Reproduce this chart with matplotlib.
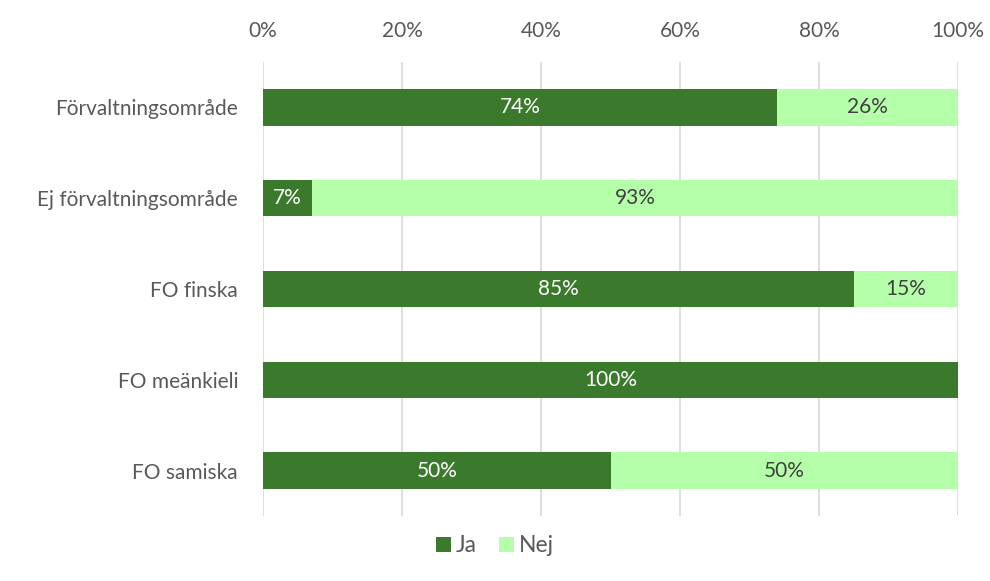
import matplotlib.pyplot as plt
from matplotlib.ticker import PercentFormatter

plt.rcParams['font.family'] = ['Lato', 'DejaVu Sans']

# data
categories = ['Förvaltningsområde', 'Ej förvaltningsområde', 'FO finska', 'FO meänkieli', 'FO samiska']
ja = [74, 7, 85, 100, 50]
nej = [26, 93, 15, 0, 50]

dark = '#3B7A2D'
light = '#B6FFAA'
grey = '#595959'

fig = plt.figure(figsize=(9.9, 5.81), dpi=100)
ax = fig.add_axes([263/990, 1-516/581, 695/990, 454/581])

ypos = list(range(len(categories)))
b1 = ax.barh(ypos, ja, height=0.4, color=dark, label='Ja', zorder=3)
b2 = ax.barh(ypos, nej, left=ja, height=0.4, color=light, label='Nej', zorder=3)

# value labels
for y, a, n in zip(ypos, ja, nej):
    if a > 0:
        ax.text(a/2, y, f'{a}%', ha='center', va='center', color='white', fontsize=15, zorder=4)
    if n > 0:
        ax.text(a + n/2, y, f'{n}%', ha='center', va='center', color='#404040', fontsize=15, zorder=4)

ax.set_xlim(0, 100)
ax.set_ylim(4.5, -0.5)
ax.set_yticks(ypos)
ax.set_yticklabels(categories)
ax.set_xticks(range(0, 101, 20))
ax.xaxis.set_major_formatter(PercentFormatter(decimals=0))
ax.xaxis.tick_top()
ax.tick_params(axis='both', length=0, labelsize=15, colors=grey)
ax.tick_params(axis='x', pad=15)
ax.tick_params(axis='y', pad=18)
ax.grid(axis='x', color='#D9D9D9', linewidth=1.2, zorder=0)
for s in ax.spines.values():
    s.set_visible(False)

fig.legend(handles=[b1, b2], loc='center', bbox_to_anchor=(0.5, 1-546/581), ncol=2,
           frameon=False, fontsize=16.5, handlelength=0.65, handleheight=0.65,
           handletextpad=0.2, columnspacing=1.0, labelcolor=grey)

fig.savefig('out.png', dpi=100)
